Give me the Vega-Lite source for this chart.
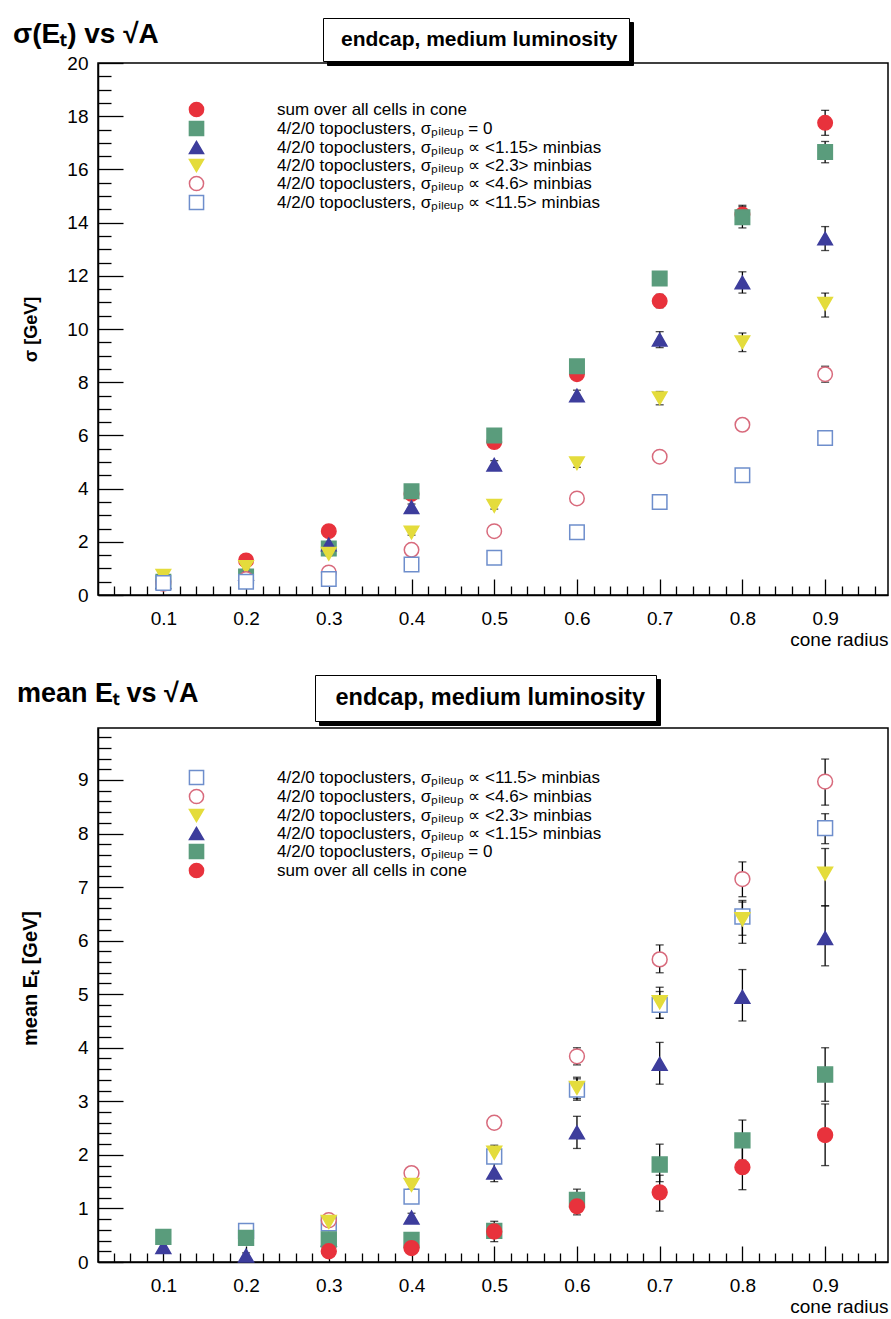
{
  "$schema": "https://vega.github.io/schema/vega-lite/v6.json",
  "background": "white",
  "padding": {"left": 12, "top": 16, "right": 4, "bottom": 0},
  "spacing": 23,
  "resolve": {
    "scale": {"shape": "independent", "fill": "independent", "stroke": "independent", "size": "independent", "opacity": "independent"},
    "legend": {"shape": "independent", "fill": "independent", "stroke": "independent", "size": "independent", "opacity": "independent"}
  },
  "config": {
    "font": "Liberation Sans",
    "view": {"stroke": "black", "strokeWidth": 1.5},
    "axis": {"grid": false, "domainColor": "black", "tickColor": "black", "labelColor": "black", "titleColor": "black", "labelFont": "Liberation Sans", "titleFont": "Liberation Sans", "domainWidth": 1.5, "tickWidth": 1.3},
    "legend": {"labelFont": "Liberation Sans", "titleFont": "Liberation Sans"}
  },
  "datasets": {
    "sigma": [
      {"r": 0.1, "s": "sum", "v": 0.5, "lo": 0.44, "hi": 0.56},
      {"r": 0.1, "s": "p0", "v": 0.5, "lo": 0.46, "hi": 0.54},
      {"r": 0.1, "s": "p1.15", "v": 0.48, "lo": 0.43, "hi": 0.53},
      {"r": 0.1, "s": "p2.3", "v": 0.72, "lo": 0.66, "hi": 0.8},
      {"r": 0.1, "s": "p4.6", "v": 0.42, "lo": 0.38, "hi": 0.46},
      {"r": 0.1, "s": "p11.5", "v": 0.45, "lo": 0.42, "hi": 0.48},
      {"r": 0.2, "s": "sum", "v": 1.3, "lo": 1.22, "hi": 1.38},
      {"r": 0.2, "s": "p0", "v": 0.7, "lo": 0.65, "hi": 0.75},
      {"r": 0.2, "s": "p1.15", "v": 0.8, "lo": 0.74, "hi": 0.86},
      {"r": 0.2, "s": "p2.3", "v": 1.05, "lo": 0.98, "hi": 1.12},
      {"r": 0.2, "s": "p4.6", "v": 0.6, "lo": 0.56, "hi": 0.64},
      {"r": 0.2, "s": "p11.5", "v": 0.5, "lo": 0.47, "hi": 0.53},
      {"r": 0.3, "s": "sum", "v": 2.4, "lo": 2.3, "hi": 2.5},
      {"r": 0.3, "s": "p0", "v": 1.75, "lo": 1.68, "hi": 1.82},
      {"r": 0.3, "s": "p1.15", "v": 1.9, "lo": 1.82, "hi": 1.98},
      {"r": 0.3, "s": "p2.3", "v": 1.55, "lo": 1.48, "hi": 1.62},
      {"r": 0.3, "s": "p4.6", "v": 0.85, "lo": 0.8, "hi": 0.9},
      {"r": 0.3, "s": "p11.5", "v": 0.6, "lo": 0.57, "hi": 0.63},
      {"r": 0.4, "s": "sum", "v": 3.8, "lo": 3.68, "hi": 3.92},
      {"r": 0.4, "s": "p0", "v": 3.9, "lo": 3.78, "hi": 4.02},
      {"r": 0.4, "s": "p1.15", "v": 3.3, "lo": 3.18, "hi": 3.42},
      {"r": 0.4, "s": "p2.3", "v": 2.35, "lo": 2.25, "hi": 2.45},
      {"r": 0.4, "s": "p4.6", "v": 1.7, "lo": 1.63, "hi": 1.77},
      {"r": 0.4, "s": "p11.5", "v": 1.15, "lo": 1.1, "hi": 1.2},
      {"r": 0.5, "s": "sum", "v": 5.75, "lo": 5.6, "hi": 5.9},
      {"r": 0.5, "s": "p0", "v": 6.0, "lo": 5.85, "hi": 6.15},
      {"r": 0.5, "s": "p1.15", "v": 4.9, "lo": 4.75, "hi": 5.05},
      {"r": 0.5, "s": "p2.3", "v": 3.35, "lo": 3.23, "hi": 3.47},
      {"r": 0.5, "s": "p4.6", "v": 2.4, "lo": 2.32, "hi": 2.48},
      {"r": 0.5, "s": "p11.5", "v": 1.4, "lo": 1.35, "hi": 1.45},
      {"r": 0.6, "s": "sum", "v": 8.3, "lo": 8.1, "hi": 8.5},
      {"r": 0.6, "s": "p0", "v": 8.6, "lo": 8.4, "hi": 8.8},
      {"r": 0.6, "s": "p1.15", "v": 7.5, "lo": 7.3, "hi": 7.7},
      {"r": 0.6, "s": "p2.3", "v": 4.95, "lo": 4.8, "hi": 5.1},
      {"r": 0.6, "s": "p4.6", "v": 3.63, "lo": 3.53, "hi": 3.73},
      {"r": 0.6, "s": "p11.5", "v": 2.36, "lo": 2.3, "hi": 2.42},
      {"r": 0.7, "s": "sum", "v": 11.05, "lo": 10.8, "hi": 11.3},
      {"r": 0.7, "s": "p0", "v": 11.9, "lo": 11.65, "hi": 12.15},
      {"r": 0.7, "s": "p1.15", "v": 9.6, "lo": 9.3, "hi": 9.9},
      {"r": 0.7, "s": "p2.3", "v": 7.4, "lo": 7.15, "hi": 7.65},
      {"r": 0.7, "s": "p4.6", "v": 5.2, "lo": 5.05, "hi": 5.35},
      {"r": 0.7, "s": "p11.5", "v": 3.5, "lo": 3.4, "hi": 3.6},
      {"r": 0.8, "s": "sum", "v": 14.3, "lo": 13.95, "hi": 14.65},
      {"r": 0.8, "s": "p0", "v": 14.2, "lo": 13.8, "hi": 14.6},
      {"r": 0.8, "s": "p1.15", "v": 11.75, "lo": 11.35, "hi": 12.15},
      {"r": 0.8, "s": "p2.3", "v": 9.5, "lo": 9.15, "hi": 9.85},
      {"r": 0.8, "s": "p4.6", "v": 6.4, "lo": 6.2, "hi": 6.6},
      {"r": 0.8, "s": "p11.5", "v": 4.5, "lo": 4.35, "hi": 4.65},
      {"r": 0.9, "s": "sum", "v": 17.75, "lo": 17.28, "hi": 18.22},
      {"r": 0.9, "s": "p0", "v": 16.65, "lo": 16.25, "hi": 17.05},
      {"r": 0.9, "s": "p1.15", "v": 13.4, "lo": 12.95, "hi": 13.85},
      {"r": 0.9, "s": "p2.3", "v": 10.95, "lo": 10.45, "hi": 11.35},
      {"r": 0.9, "s": "p4.6", "v": 8.3, "lo": 8.0, "hi": 8.6},
      {"r": 0.9, "s": "p11.5", "v": 5.9, "lo": 5.7, "hi": 6.1}
    ],
    "mean": [
      {"r": 0.1, "s": "p1.15", "v": 0.28, "lo": 0.22, "hi": 0.34},
      {"r": 0.1, "s": "p0", "v": 0.47, "lo": 0.42, "hi": 0.52},
      {"r": 0.2, "s": "p11.5", "v": 0.58, "lo": 0.53, "hi": 0.63},
      {"r": 0.2, "s": "p1.15", "v": 0.12, "lo": 0.07, "hi": 0.17},
      {"r": 0.2, "s": "p0", "v": 0.45, "lo": 0.4, "hi": 0.5},
      {"r": 0.3, "s": "p11.5", "v": 0.72, "lo": 0.66, "hi": 0.78},
      {"r": 0.3, "s": "p4.6", "v": 0.78, "lo": 0.72, "hi": 0.84},
      {"r": 0.3, "s": "p2.3", "v": 0.75, "lo": 0.69, "hi": 0.81},
      {"r": 0.3, "s": "p1.15", "v": 0.42, "lo": 0.37, "hi": 0.47},
      {"r": 0.3, "s": "p0", "v": 0.42, "lo": 0.37, "hi": 0.47},
      {"r": 0.3, "s": "sum", "v": 0.2, "lo": 0.15, "hi": 0.25},
      {"r": 0.4, "s": "p11.5", "v": 1.22, "lo": 1.12, "hi": 1.32},
      {"r": 0.4, "s": "p4.6", "v": 1.66, "lo": 1.58, "hi": 1.74},
      {"r": 0.4, "s": "p2.3", "v": 1.44, "lo": 1.36, "hi": 1.52},
      {"r": 0.4, "s": "p1.15", "v": 0.83, "lo": 0.75, "hi": 0.91},
      {"r": 0.4, "s": "p0", "v": 0.41, "lo": 0.35, "hi": 0.47},
      {"r": 0.4, "s": "sum", "v": 0.26, "lo": 0.2, "hi": 0.32},
      {"r": 0.5, "s": "p11.5", "v": 1.97, "lo": 1.85, "hi": 2.09},
      {"r": 0.5, "s": "p4.6", "v": 2.6, "lo": 2.52, "hi": 2.68},
      {"r": 0.5, "s": "p2.3", "v": 2.04, "lo": 1.9, "hi": 2.18},
      {"r": 0.5, "s": "p1.15", "v": 1.67, "lo": 1.5, "hi": 1.84},
      {"r": 0.5, "s": "p0", "v": 0.58, "lo": 0.45, "hi": 0.71},
      {"r": 0.5, "s": "sum", "v": 0.57, "lo": 0.38, "hi": 0.76},
      {"r": 0.6, "s": "p11.5", "v": 3.22, "lo": 3.02, "hi": 3.42},
      {"r": 0.6, "s": "p4.6", "v": 3.84, "lo": 3.68, "hi": 4.0},
      {"r": 0.6, "s": "p2.3", "v": 3.25, "lo": 3.05, "hi": 3.45},
      {"r": 0.6, "s": "p1.15", "v": 2.42, "lo": 2.12, "hi": 2.72},
      {"r": 0.6, "s": "p0", "v": 1.16, "lo": 0.96, "hi": 1.36},
      {"r": 0.6, "s": "sum", "v": 1.04, "lo": 0.88, "hi": 1.2},
      {"r": 0.7, "s": "p11.5", "v": 4.8, "lo": 4.55, "hi": 5.05},
      {"r": 0.7, "s": "p4.6", "v": 5.65, "lo": 5.4, "hi": 5.92},
      {"r": 0.7, "s": "p2.3", "v": 4.85, "lo": 4.55, "hi": 5.13},
      {"r": 0.7, "s": "p1.15", "v": 3.7, "lo": 3.32, "hi": 4.1},
      {"r": 0.7, "s": "p0", "v": 1.82, "lo": 1.5, "hi": 2.2},
      {"r": 0.7, "s": "sum", "v": 1.3, "lo": 0.95, "hi": 1.62},
      {"r": 0.8, "s": "p11.5", "v": 6.45, "lo": 6.1, "hi": 6.75},
      {"r": 0.8, "s": "p4.6", "v": 7.15, "lo": 6.82, "hi": 7.47},
      {"r": 0.8, "s": "p2.3", "v": 6.4, "lo": 5.95, "hi": 6.72},
      {"r": 0.8, "s": "p1.15", "v": 4.95, "lo": 4.5, "hi": 5.46},
      {"r": 0.8, "s": "p0", "v": 2.27, "lo": 1.9, "hi": 2.65},
      {"r": 0.8, "s": "sum", "v": 1.77, "lo": 1.35, "hi": 2.2},
      {"r": 0.9, "s": "p11.5", "v": 8.1, "lo": 7.81, "hi": 8.37},
      {"r": 0.9, "s": "p4.6", "v": 8.97, "lo": 8.53, "hi": 9.39},
      {"r": 0.9, "s": "p2.3", "v": 7.25, "lo": 6.65, "hi": 7.72},
      {"r": 0.9, "s": "p1.15", "v": 6.05, "lo": 5.53, "hi": 6.65},
      {"r": 0.9, "s": "p0", "v": 3.5, "lo": 3.0, "hi": 4.0},
      {"r": 0.9, "s": "sum", "v": 2.37, "lo": 1.8, "hi": 2.95}
    ]
  },
  "vconcat": [
    {
      "width": 790,
      "height": 532,
      "data": {"name": "sigma"},
      "title": {"text": "σ(Eₜ) vs √A", "anchor": "start", "frame": "group", "dx": -85, "fontSize": 28, "fontWeight": "bold", "offset": -31, "color": "black"},
      "layer": [
        {
          "mark": {"type": "errorbar", "color": "black", "thickness": 1.3, "ticks": {"size": 8, "color": "black"}},
          "encoding": {
            "x": {"field": "r", "type": "quantitative", "scale": {"domain": [0.021, 0.976], "nice": false},
              "axis": {"title": "cone radius", "titleAnchor": "end", "titleFontSize": 19, "titleFontWeight": "normal", "titlePadding": -5,
                "values": [0.04,0.06,0.08,0.1,0.12,0.14,0.16,0.18,0.2,0.22,0.24,0.26,0.28,0.3,0.32,0.34,0.36,0.38,0.4,0.42,0.44,0.46,0.48,0.5,0.52,0.54,0.56,0.58,0.6,0.62,0.64,0.66,0.68,0.7,0.72,0.74,0.76,0.78,0.8,0.82,0.84,0.86,0.88,0.9,0.92,0.94,0.96],
                "labelExpr": "round(datum.value*100)%10===0 ? format(datum.value,'.1f') : ''",
                "tickSize": {"condition": {"test": "round(datum.value*100)%10===0", "value": -16}, "value": -9},
                "labelFontSize": 19, "labelPadding": 30, "labelOverlap": false, "labelFlush": false}},
            "y": {"field": "lo", "type": "quantitative", "scale": {"domain": [0, 20], "nice": false},
              "axis": {"title": "σ [GeV]", "titleFontSize": 18, "titleFontWeight": "bold", "titleX": -58, "titleY": 266,
                "values": [0,0.5,1,1.5,2,2.5,3,3.5,4,4.5,5,5.5,6,6.5,7,7.5,8,8.5,9,9.5,10,10.5,11,11.5,12,12.5,13,13.5,14,14.5,15,15.5,16,16.5,17,17.5,18,18.5,19,19.5,20],
                "labelExpr": "datum.value%2===0 ? format(datum.value,'d') : ''",
                "tickSize": {"condition": {"test": "datum.value%2===0", "value": -25}, "value": -13},
                "labelFontSize": 19, "labelPadding": 35, "labelOverlap": false, "labelFlush": false}},
            "y2": {"field": "hi"}
          }
        },
        {
          "mark": {"type": "point", "strokeWidth": 1.5, "opacity": 1, "fillOpacity": 1},
          "encoding": {
            "x": {"field": "r", "type": "quantitative",
              "axis": {"title": "cone radius", "titleAnchor": "end", "titleFontSize": 19, "titleFontWeight": "normal", "titlePadding": -5,
                "values": [0.04,0.06,0.08,0.1,0.12,0.14,0.16,0.18,0.2,0.22,0.24,0.26,0.28,0.3,0.32,0.34,0.36,0.38,0.4,0.42,0.44,0.46,0.48,0.5,0.52,0.54,0.56,0.58,0.6,0.62,0.64,0.66,0.68,0.7,0.72,0.74,0.76,0.78,0.8,0.82,0.84,0.86,0.88,0.9,0.92,0.94,0.96],
                "labelExpr": "round(datum.value*100)%10===0 ? format(datum.value,'.1f') : ''",
                "tickSize": {"condition": {"test": "round(datum.value*100)%10===0", "value": -16}, "value": -9},
                "labelFontSize": 19, "labelPadding": 30, "labelOverlap": false, "labelFlush": false}},
            "y": {"field": "v", "type": "quantitative",
              "axis": {"title": "σ [GeV]", "titleFontSize": 18, "titleFontWeight": "bold", "titleX": -58, "titleY": 266,
                "values": [0,0.5,1,1.5,2,2.5,3,3.5,4,4.5,5,5.5,6,6.5,7,7.5,8,8.5,9,9.5,10,10.5,11,11.5,12,12.5,13,13.5,14,14.5,15,15.5,16,16.5,17,17.5,18,18.5,19,19.5,20],
                "labelExpr": "datum.value%2===0 ? format(datum.value,'d') : ''",
                "tickSize": {"condition": {"test": "datum.value%2===0", "value": -25}, "value": -13},
                "labelFontSize": 19, "labelPadding": 35, "labelOverlap": false, "labelFlush": false}},
            "shape": {"field": "s", "type": "nominal",
              "scale": {"domain": ["sum","p0","p1.15","p2.3","p4.6","p11.5"], "range": ["circle","square","triangle-up","triangle-down","circle","square"]},
              "legend": {"orient": "none", "legendX": 90, "legendY": 38, "title": null, "labelFontSize": 17, "labelOffset": 72, "rowPadding": -2.5, "symbolSize": 200, "symbolStrokeWidth": 1.5, "labelLimit": 600, "labelColor": "black",
                "labelExpr": "datum.label=='sum' ? 'sum over all cells in cone' : datum.label=='p0' ? '4/2/0 topoclusters, σₚᵢₗₑᵤₚ = 0' : '4/2/0 topoclusters, σₚᵢₗₑᵤₚ ∝ <' + slice(datum.label,1) + '> minbias'"}},
            "fill": {"field": "s", "type": "nominal",
              "scale": {"domain": ["sum","p0","p1.15","p2.3","p4.6","p11.5"], "range": ["#e8323c","#5a9c7c","#3d3d9c","#e4dc3c","white","white"]},
              "legend": {"orient": "none", "legendX": 90, "legendY": 38, "title": null, "labelFontSize": 17, "labelOffset": 72, "rowPadding": -2.5, "symbolSize": 200, "symbolStrokeWidth": 1.5, "labelLimit": 600, "labelColor": "black",
                "labelExpr": "datum.label=='sum' ? 'sum over all cells in cone' : datum.label=='p0' ? '4/2/0 topoclusters, σₚᵢₗₑᵤₚ = 0' : '4/2/0 topoclusters, σₚᵢₗₑᵤₚ ∝ <' + slice(datum.label,1) + '> minbias'"}},
            "stroke": {"field": "s", "type": "nominal",
              "scale": {"domain": ["sum","p0","p1.15","p2.3","p4.6","p11.5"], "range": ["#e8323c","#5a9c7c","#3d3d9c","#e4dc3c","#d86a7c","#6e8ecc"]},
              "legend": {"orient": "none", "legendX": 90, "legendY": 38, "title": null, "labelFontSize": 17, "labelOffset": 72, "rowPadding": -2.5, "symbolSize": 200, "symbolStrokeWidth": 1.5, "labelLimit": 600, "labelColor": "black",
                "labelExpr": "datum.label=='sum' ? 'sum over all cells in cone' : datum.label=='p0' ? '4/2/0 topoclusters, σₚᵢₗₑᵤₚ = 0' : '4/2/0 topoclusters, σₚᵢₗₑᵤₚ ∝ <' + slice(datum.label,1) + '> minbias'"}},
            "size": {"datum": "endcap, medium luminosity ", "type": "ordinal", "scale": {"type": "ordinal", "range": [210]},
              "legend": {"orient": "none", "legendX": 229, "legendY": -41, "title": null, "labelFontSize": 21, "labelFontWeight": "bold", "labelColor": "black", "symbolOpacity": 0, "symbolStrokeWidth": 0, "labelOffset": -14, "padding": 11, "strokeColor": "black", "fillColor": "black", "labelLimit": 600}},
            "opacity": {"datum": "endcap, medium luminosity", "type": "ordinal", "scale": {"type": "ordinal", "range": [1]},
              "legend": {"orient": "none", "legendX": 225, "legendY": -45, "title": null, "labelFontSize": 21, "labelFontWeight": "bold", "labelColor": "black", "symbolType": "M0,0", "symbolOpacity": 0, "symbolStrokeWidth": 0, "labelOffset": -14, "padding": 11, "strokeColor": "black", "fillColor": "white", "labelLimit": 600}}
          }
        }
      ]
    },
    {
      "width": 790,
      "height": 534,
      "data": {"name": "mean"},
      "title": {"text": "mean Eₜ vs √A", "anchor": "start", "frame": "group", "dx": -81, "fontSize": 27, "fontWeight": "bold", "offset": -33, "color": "black"},
      "layer": [
        {
          "mark": {"type": "errorbar", "color": "black", "thickness": 1.3, "ticks": {"size": 8, "color": "black"}},
          "encoding": {
            "x": {"field": "r", "type": "quantitative", "scale": {"domain": [0.021, 0.976], "nice": false},
              "axis": {"title": "cone radius", "titleAnchor": "end", "titleFontSize": 19, "titleFontWeight": "normal", "titlePadding": -5,
                "values": [0.04,0.06,0.08,0.1,0.12,0.14,0.16,0.18,0.2,0.22,0.24,0.26,0.28,0.3,0.32,0.34,0.36,0.38,0.4,0.42,0.44,0.46,0.48,0.5,0.52,0.54,0.56,0.58,0.6,0.62,0.64,0.66,0.68,0.7,0.72,0.74,0.76,0.78,0.8,0.82,0.84,0.86,0.88,0.9,0.92,0.94,0.96],
                "labelExpr": "round(datum.value*100)%10===0 ? format(datum.value,'.1f') : ''",
                "tickSize": {"condition": {"test": "round(datum.value*100)%10===0", "value": -16}, "value": -9},
                "labelFontSize": 19, "labelPadding": 30, "labelOverlap": false, "labelFlush": false}},
            "y": {"field": "lo", "type": "quantitative", "scale": {"domain": [0, 9.97], "nice": false},
              "axis": {"title": "mean Eₜ [GeV]", "titleFontSize": 20, "titleFontWeight": "bold", "titleX": -58, "titleY": 250,
                "values": [0,0.2,0.4,0.6,0.8,1,1.2,1.4,1.6,1.8,2,2.2,2.4,2.6,2.8,3,3.2,3.4,3.6,3.8,4,4.2,4.4,4.6,4.8,5,5.2,5.4,5.6,5.8,6,6.2,6.4,6.6,6.8,7,7.2,7.4,7.6,7.8,8,8.2,8.4,8.6,8.8,9,9.2,9.4,9.6,9.8],
                "labelExpr": "round(datum.value*10)%10===0 ? format(datum.value,'d') : ''",
                "tickSize": {"condition": {"test": "round(datum.value*10)%10===0", "value": -25}, "value": -13},
                "labelFontSize": 19, "labelPadding": 35, "labelOverlap": false, "labelFlush": false}},
            "y2": {"field": "hi"}
          }
        },
        {
          "mark": {"type": "point", "strokeWidth": 1.5, "opacity": 1, "fillOpacity": 1},
          "encoding": {
            "x": {"field": "r", "type": "quantitative",
              "axis": {"title": "cone radius", "titleAnchor": "end", "titleFontSize": 19, "titleFontWeight": "normal", "titlePadding": -5,
                "values": [0.04,0.06,0.08,0.1,0.12,0.14,0.16,0.18,0.2,0.22,0.24,0.26,0.28,0.3,0.32,0.34,0.36,0.38,0.4,0.42,0.44,0.46,0.48,0.5,0.52,0.54,0.56,0.58,0.6,0.62,0.64,0.66,0.68,0.7,0.72,0.74,0.76,0.78,0.8,0.82,0.84,0.86,0.88,0.9,0.92,0.94,0.96],
                "labelExpr": "round(datum.value*100)%10===0 ? format(datum.value,'.1f') : ''",
                "tickSize": {"condition": {"test": "round(datum.value*100)%10===0", "value": -16}, "value": -9},
                "labelFontSize": 19, "labelPadding": 30, "labelOverlap": false, "labelFlush": false}},
            "y": {"field": "v", "type": "quantitative",
              "axis": {"title": "mean Eₜ [GeV]", "titleFontSize": 20, "titleFontWeight": "bold", "titleX": -58, "titleY": 250,
                "values": [0,0.2,0.4,0.6,0.8,1,1.2,1.4,1.6,1.8,2,2.2,2.4,2.6,2.8,3,3.2,3.4,3.6,3.8,4,4.2,4.4,4.6,4.8,5,5.2,5.4,5.6,5.8,6,6.2,6.4,6.6,6.8,7,7.2,7.4,7.6,7.8,8,8.2,8.4,8.6,8.8,9,9.2,9.4,9.6,9.8],
                "labelExpr": "round(datum.value*10)%10===0 ? format(datum.value,'d') : ''",
                "tickSize": {"condition": {"test": "round(datum.value*10)%10===0", "value": -25}, "value": -13},
                "labelFontSize": 19, "labelPadding": 35, "labelOverlap": false, "labelFlush": false}},
            "shape": {"field": "s", "type": "nominal",
              "scale": {"domain": ["p11.5","p4.6","p2.3","p1.15","p0","sum"], "range": ["square","circle","triangle-down","triangle-up","square","circle"]},
              "legend": {"orient": "none", "legendX": 90, "legendY": 41, "title": null, "labelFontSize": 17, "labelOffset": 72, "rowPadding": -2.5, "symbolSize": 200, "symbolStrokeWidth": 1.5, "labelLimit": 600, "labelColor": "black",
                "labelExpr": "datum.label=='sum' ? 'sum over all cells in cone' : datum.label=='p0' ? '4/2/0 topoclusters, σₚᵢₗₑᵤₚ = 0' : '4/2/0 topoclusters, σₚᵢₗₑᵤₚ ∝ <' + slice(datum.label,1) + '> minbias'"}},
            "fill": {"field": "s", "type": "nominal",
              "scale": {"domain": ["p11.5","p4.6","p2.3","p1.15","p0","sum"], "range": ["white","white","#e4dc3c","#3d3d9c","#5a9c7c","#e8323c"]},
              "legend": {"orient": "none", "legendX": 90, "legendY": 41, "title": null, "labelFontSize": 17, "labelOffset": 72, "rowPadding": -2.5, "symbolSize": 200, "symbolStrokeWidth": 1.5, "labelLimit": 600, "labelColor": "black",
                "labelExpr": "datum.label=='sum' ? 'sum over all cells in cone' : datum.label=='p0' ? '4/2/0 topoclusters, σₚᵢₗₑᵤₚ = 0' : '4/2/0 topoclusters, σₚᵢₗₑᵤₚ ∝ <' + slice(datum.label,1) + '> minbias'"}},
            "stroke": {"field": "s", "type": "nominal",
              "scale": {"domain": ["p11.5","p4.6","p2.3","p1.15","p0","sum"], "range": ["#6e8ecc","#d86a7c","#e4dc3c","#3d3d9c","#5a9c7c","#e8323c"]},
              "legend": {"orient": "none", "legendX": 90, "legendY": 41, "title": null, "labelFontSize": 17, "labelOffset": 72, "rowPadding": -2.5, "symbolSize": 200, "symbolStrokeWidth": 1.5, "labelLimit": 600, "labelColor": "black",
                "labelExpr": "datum.label=='sum' ? 'sum over all cells in cone' : datum.label=='p0' ? '4/2/0 topoclusters, σₚᵢₗₑᵤₚ = 0' : '4/2/0 topoclusters, σₚᵢₗₑᵤₚ ∝ <' + slice(datum.label,1) + '> minbias'"}},
            "size": {"datum": "endcap, medium luminosity ", "type": "ordinal", "scale": {"type": "ordinal", "range": [220]},
              "legend": {"orient": "none", "legendX": 221, "legendY": -49, "title": null, "labelFontSize": 23.5, "labelFontWeight": "bold", "labelColor": "black", "symbolOpacity": 0, "symbolStrokeWidth": 0, "labelOffset": -14, "padding": 11, "strokeColor": "black", "fillColor": "black", "labelLimit": 600}},
            "opacity": {"datum": "endcap, medium luminosity", "type": "ordinal", "scale": {"type": "ordinal", "range": [1]},
              "legend": {"orient": "none", "legendX": 217, "legendY": -53, "title": null, "labelFontSize": 23.5, "labelFontWeight": "bold", "labelColor": "black", "symbolType": "M0,0", "symbolOpacity": 0, "symbolStrokeWidth": 0, "labelOffset": -14, "padding": 11, "strokeColor": "black", "fillColor": "white", "labelLimit": 600}}
          }
        }
      ]
    }
  ]
}
